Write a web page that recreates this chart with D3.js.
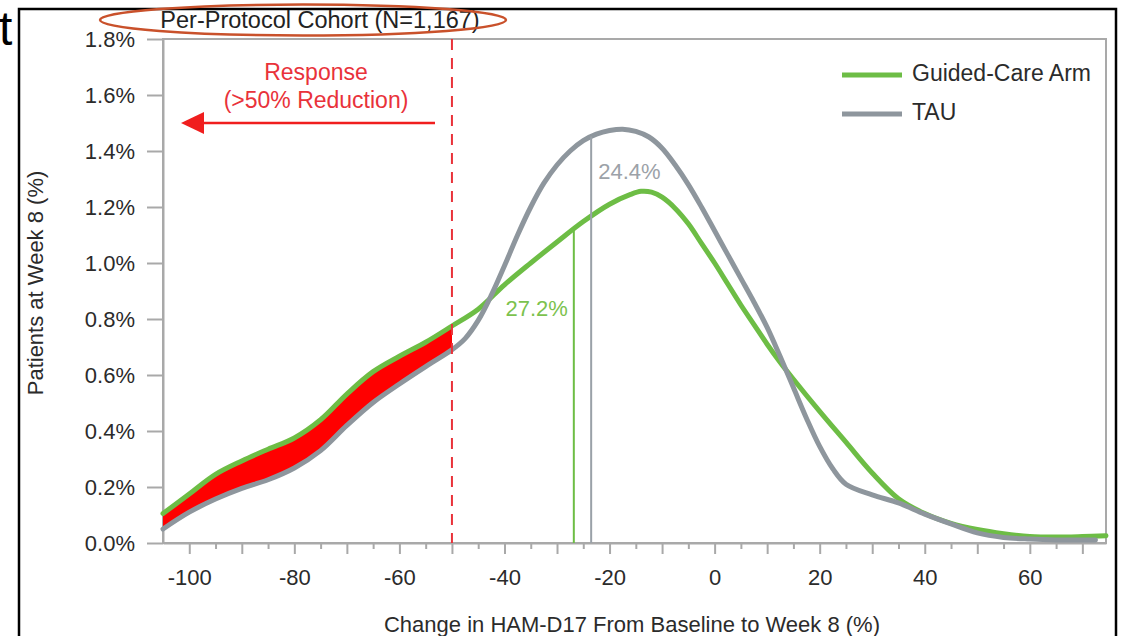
<!DOCTYPE html>
<html><head><meta charset="utf-8">
<script src="https://cdn.jsdelivr.net/npm/d3@7"></script>
<style>
html,body{margin:0;padding:0;background:#fff;overflow:hidden;}
svg{display:block;font-family:"Liberation Sans",Arial,Helvetica,sans-serif;}
</style></head><body>
<svg id="c" width="1127" height="636"></svg>
<script>
// ---------------- DATA ----------------
const title = "Per-Protocol Cohort (N=1,167)";
const xLabel = "Change in HAM-D17 From Baseline to Week 8 (%)";
const yLabel = "Patients at Week 8 (%)";
const seriesNames = ["Guided-Care Arm", "TAU"];
const xTickLabels = [-100, -80, -60, -40, -20, 0, 20, 40, 60];
const yTickLabels = [0, 0.2, 0.4, 0.6, 0.8, 1.0, 1.2, 1.4, 1.6, 1.8];
const xDomain = [-105, 74.5];
const yDomain = [0, 1.8];
const responseCutoff = -50;
const responseText = ["Response", "(>50% Reduction)"];

const guidedX = [-105,-100,-95,-90,-85,-80,-75,-70,-65,-60,-55,-50,-45,-40,-35,-30,-25,-20,-16,-14,-12,-10,-7.5,-5,-2.5,0,2.5,5,7.5,10,12.5,15,20,25,30,35,40,45,50,55,60,65,70,74.5];
const guidedY = [0.105,0.175,0.245,0.293,0.335,0.375,0.44,0.532,0.612,0.667,0.717,0.775,0.835,0.922,1.0,1.075,1.148,1.21,1.245,1.256,1.253,1.235,1.195,1.14,1.07,1.0,0.925,0.85,0.78,0.71,0.645,0.585,0.47,0.36,0.25,0.158,0.105,0.07,0.048,0.033,0.023,0.021,0.023,0.026];

const tauX = [-105,-100,-95,-90,-85,-80,-75,-70,-65,-60,-55,-50,-47.5,-45,-42.5,-40,-37.5,-35,-32.5,-30,-27.5,-25,-22.5,-20,-17.5,-15,-12.5,-10,-7.5,-5,-2.5,0,2.5,5,7.5,10,12.5,15,17.5,20,22.5,25,30,35,40,45,50,55,60,65,72.5];
const tauY = [0.05,0.11,0.157,0.195,0.226,0.268,0.33,0.42,0.502,0.568,0.63,0.69,0.73,0.795,0.885,0.99,1.1,1.2,1.285,1.35,1.4,1.437,1.46,1.473,1.478,1.47,1.45,1.41,1.35,1.28,1.2,1.115,1.03,0.945,0.86,0.77,0.665,0.555,0.445,0.345,0.265,0.21,0.172,0.143,0.103,0.068,0.036,0.02,0.014,0.011,0.011];

const markerX = [-26.8, -23.5];          // Guided-Care, TAU
const markerLabels = ["27.2%", "24.4%"];

// ---------------- STYLE ----------------
const GREEN = "#6dbd45", GRAY = "#8e969d", RED = "#e9323a";
const AXIS = "#a9a9a9", TXT = "#2b2b2b";
const L = 163, R = 1106, T = 39, B = 543;

const svg = d3.select("#c");

// outer black frame and stray letter
svg.append("text").attr("x", -1).attr("y", 45).attr("font-size", 48).attr("fill", "#000").text("t");
svg.append("rect").attr("x", 19).attr("y", 9).attr("width", 1097).attr("height", 700)
  .attr("fill", "none").attr("stroke", "#000").attr("stroke-width", 2.5);

const x = d3.scaleLinear().domain(xDomain).range([L, R]);
const y = d3.scaleLinear().domain(yDomain).range([B, T]);

// plot frame (top/right)
svg.append("rect").attr("x", L).attr("y", T).attr("width", R - L).attr("height", B - T)
  .attr("fill", "none").attr("stroke", AXIS).attr("stroke-width", 2);

// y axis
const yAx = svg.append("g").attr("transform", `translate(${L},0)`)
  .call(d3.axisLeft(y).tickValues(yTickLabels).tickFormat(d => d.toFixed(1) + "%").tickSize(16).tickPadding(12).tickSizeOuter(0));
yAx.select(".domain").attr("stroke", AXIS).attr("stroke-width", 2);
yAx.selectAll(".tick line").attr("stroke", AXIS).attr("stroke-width", 2);
yAx.selectAll(".tick text").attr("font-size", 22).attr("fill", TXT).attr("font-family", "Liberation Sans, Arial, sans-serif");

// x axis: labeled majors, unlabeled tens, short fives
const xAx = svg.append("g").attr("transform", `translate(0,${B})`)
  .call(d3.axisBottom(x).tickValues(xTickLabels).tickFormat(d => String(d)).tickSize(11).tickPadding(15).tickSizeOuter(0));
xAx.select(".domain").attr("stroke", AXIS).attr("stroke-width", 2);
xAx.selectAll(".tick line").attr("stroke", AXIS).attr("stroke-width", 2);
xAx.selectAll(".tick text").attr("font-size", 22).attr("fill", TXT).attr("font-family", "Liberation Sans, Arial, sans-serif");
const tens = d3.range(-100, 71, 10).filter(v => !xTickLabels.includes(v));
const fives = d3.range(-95, 71, 10);
const xAx2 = svg.append("g").attr("transform", `translate(0,${B})`)
  .call(d3.axisBottom(x).tickValues(tens).tickFormat("").tickSize(11).tickSizeOuter(0));
const xAx3 = svg.append("g").attr("transform", `translate(0,${B})`)
  .call(d3.axisBottom(x).tickValues(fives).tickFormat("").tickSize(6).tickSizeOuter(0));
[xAx2, xAx3].forEach(g => {
  g.select(".domain").remove();
  g.selectAll(".tick line").attr("stroke", AXIS).attr("stroke-width", 2);
});

// axis titles
svg.append("text").attr("x", 632).attr("y", 632).attr("text-anchor", "middle")
  .attr("font-size", 22).attr("fill", TXT).text(xLabel);
svg.append("text").attr("transform", "translate(43,283) rotate(-90)").attr("text-anchor", "middle")
  .attr("font-size", 22).attr("fill", TXT).text(yLabel);

// title with ellipse
svg.append("text").attr("x", 320).attr("y", 28).attr("text-anchor", "middle")
  .attr("font-size", 23.5).attr("fill", "#222").text(title);
svg.append("ellipse").attr("cx", 303).attr("cy", 20).attr("rx", 203).attr("ry", 15.5)
  .attr("fill", "none").attr("stroke", "#c9512b").attr("stroke-width", 2.5);

// curves
const gData = guidedX.map((v, i) => [v, guidedY[i]]);
const tData = tauX.map((v, i) => [v, tauY[i]]);
const curve = d3.curveCatmullRom.alpha(0.5);
const line = d3.line().x(d => x(d[0])).y(d => y(d[1])).curve(curve);

// red response area between curves, clipped at cutoff
svg.append("clipPath").attr("id", "respClip").append("rect")
  .attr("x", L).attr("y", T).attr("width", x(responseCutoff) - L).attr("height", B - T);
const areaPath = line(gData) + "L" + x(tauX[tauX.length - 1]) + "," + y(tauY[tauY.length - 1]) +
  line(tData.slice().reverse()).replace(/^M/, "L") + "Z";
svg.append("path").attr("d", areaPath).attr("fill", "#ff0000").attr("clip-path", "url(#respClip)");

const gPath = svg.append("path").attr("d", line(gData)).attr("fill", "none")
  .attr("stroke", GREEN).attr("stroke-width", 5).attr("stroke-linecap", "round");
const tPath = svg.append("path").attr("d", line(tData)).attr("fill", "none")
  .attr("stroke", GRAY).attr("stroke-width", 5).attr("stroke-linecap", "round");

function yOnPath(node, px) {
  let lo = 0, hi = node.getTotalLength();
  for (let k = 0; k < 40; k++) {
    const mid = (lo + hi) / 2;
    if (node.getPointAtLength(mid).x < px) lo = mid; else hi = mid;
  }
  return node.getPointAtLength((lo + hi) / 2).y;
}

// marker lines
const gx = x(markerX[0]), tx = x(markerX[1]);
svg.insert("line", () => gPath.node()).attr("x1", gx).attr("x2", gx).attr("y1", B).attr("y2", yOnPath(gPath.node(), gx))
  .attr("stroke", GREEN).attr("stroke-width", 2);
svg.append("line").attr("x1", tx).attr("x2", tx).attr("y1", B).attr("y2", yOnPath(tPath.node(), tx))
  .attr("stroke", "#9aa1a8").attr("stroke-width", 2);
svg.append("text").attr("x", gx - 6).attr("y", 316).attr("text-anchor", "end")
  .attr("font-size", 22).attr("fill", "#7cc24e").text(markerLabels[0]);
svg.append("text").attr("x", tx + 7).attr("y", 179).attr("text-anchor", "start")
  .attr("font-size", 22).attr("fill", "#9ca2a8").text(markerLabels[1]);

// response cutoff dashed line
svg.append("line").attr("x1", x(responseCutoff)).attr("x2", x(responseCutoff)).attr("y1", T).attr("y2", B)
  .attr("stroke", RED).attr("stroke-width", 2).attr("stroke-dasharray", "11,8");

// response annotation
svg.append("text").attr("x", 316).attr("y", 80).attr("text-anchor", "middle").attr("font-size", 23)
  .attr("fill", RED).text(responseText[0]);
svg.append("text").attr("x", 316).attr("y", 108).attr("text-anchor", "middle").attr("font-size", 23)
  .attr("fill", RED).text(responseText[1]);
svg.append("line").attr("x1", 435).attr("x2", 200).attr("y1", 123).attr("y2", 123)
  .attr("stroke", "#f01e1e").attr("stroke-width", 2.5);
svg.append("path").attr("d", "M181,123 L204,112 L204,134 Z").attr("fill", "#f01e1e");

// legend
const legY = [73, 112];
const legColors = [GREEN, GRAY];
seriesNames.forEach((n, i) => {
  svg.append("line").attr("x1", 842).attr("x2", 902).attr("y1", legY[i] + 2).attr("y2", legY[i] + 2)
    .attr("stroke", legColors[i]).attr("stroke-width", 5);
  svg.append("text").attr("x", 912).attr("y", legY[i] + 8).attr("font-size", 23).attr("fill", TXT).text(n);
});
</script>
</body></html>
